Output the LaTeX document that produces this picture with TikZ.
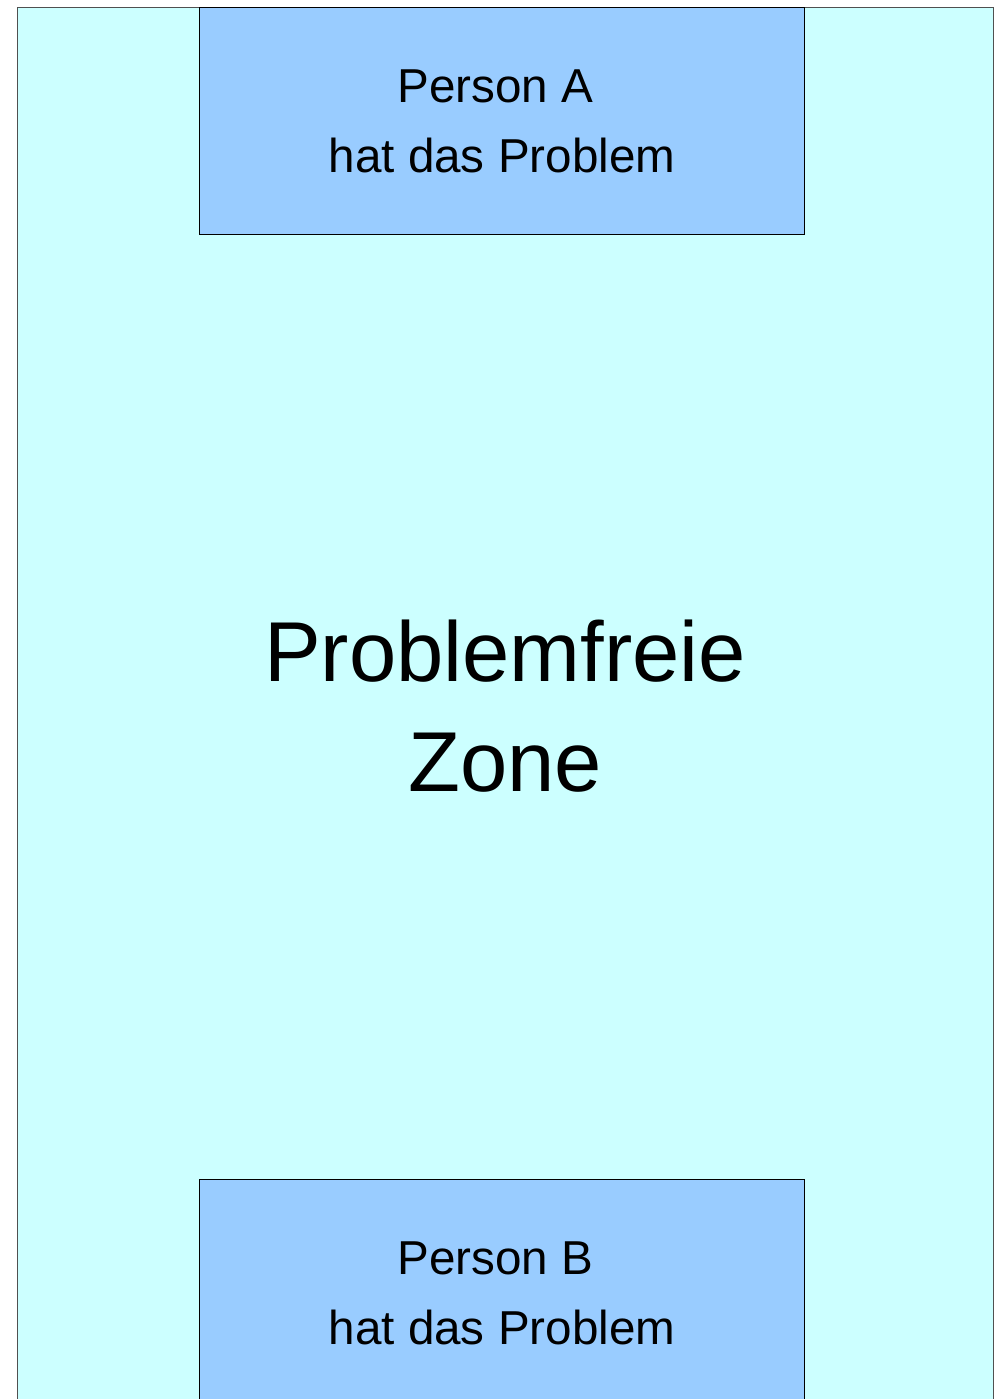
\documentclass[tikz,border=0pt]{standalone}
\usepackage{fontspec}
\setmainfont{Liberation Sans}
\definecolor{zone}{HTML}{CCFFFF}
\definecolor{boxfill}{HTML}{99CCFF}
\definecolor{zoneline}{HTML}{505050}
\begin{document}
\begin{tikzpicture}[x=1pt,y=-1pt,
  zonebox/.style={draw=zoneline,line width=1pt,fill=zone,rectangle,inner sep=0pt,anchor=north west},
  personbox/.style={draw=black,line width=1pt,fill=boxfill,rectangle,inner sep=0pt,anchor=north west,minimum width=605pt,minimum height=226.5pt},
  small/.style={font=\fontsize{47.6}{56}\selectfont,inner sep=0pt,anchor=base},
  big/.style={font=\fontsize{85}{100}\selectfont,inner sep=0pt,anchor=base}]
\useasboundingbox (0,0) rectangle (1005,1399);
\clip (0,0) rectangle (1005,1399);
\fill[white] (0,0) rectangle (1005,1399);
\node[zonebox,minimum width=976.5pt,minimum height=1420pt] (zoneR) at (16.7,7.3) {};
\node[personbox] (boxA) at (199.2,7.3) {};
\node[personbox] (boxB) at (199.2,1179.3) {};
\node[small] (a1) at (502,102.7) {\mbox{Person A\ }};
\node[small] (a2) at (502,172.3) {hat das Problem};
\node[small] (b1) at (502,1274.7) {\mbox{Person B\ }};
\node[small] (b2) at (502,1344.3) {hat das Problem};
\node[big] (z1) at (505,681.7) {Problemfreie};
\node[big] (z2) at (505,791.7) {Zone};
\end{tikzpicture}
\end{document}
